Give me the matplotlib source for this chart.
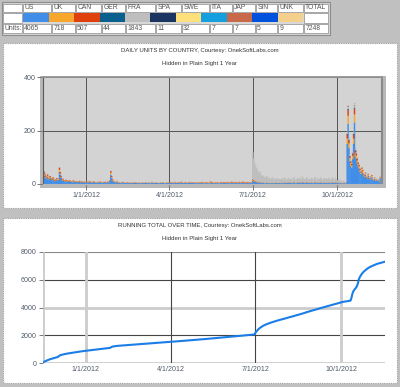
import matplotlib
matplotlib.use("Agg")
import matplotlib.pyplot as plt
import matplotlib.patches as patches
import pandas as pd

plt.rcParams['font.family'] = ['Liberation Sans', 'DejaVu Sans']

countries = ["US", "UK", "CAN", "GER", "FRA", "SPA", "SWE", "ITA", "JAP", "SIN", "UNK"]
colors = ["#418ee8", "#f8a62c", "#e0400e", "#0a5f8f", "#bebebe", "#1b3563",
          "#fde07c", "#169fde", "#c8694a", "#0052dc", "#f4d08c"]
table_units = [4065, 718, 507, 44, 1843, 11, 32, 7, 7, 5, 9]
table_total = 7248

first_day = "2011-11-16"

# daily units, one line per month (Nov 16 2011 .. Nov 17 2012)
us_units = [
    34, 31, 23, 20, 26, 17, 21, 23, 15, 14, 18, 15, 11, 13, 16,
    11, 15, 45, 34, 23, 13, 15, 11, 9, 12, 10, 9, 8, 11, 9, 8, 6, 10, 9, 8, 7, 8, 6, 8, 9, 6, 7, 7, 5, 7, 6,
    6, 7, 5, 7, 9, 5, 6, 5, 7, 7, 5, 4, 6, 5, 7, 5, 7, 5, 4, 6, 5, 7, 5, 6, 7, 5, 11, 35, 22, 13, 9,
    7, 6, 4, 9, 4, 5, 3, 5, 3, 6, 4, 4, 4, 3, 5, 4, 3, 4, 4, 3, 4, 3, 4, 5, 3, 4, 3, 4, 3,
    4, 3, 4, 3, 4, 5, 3, 4, 3, 4, 3, 4, 6, 3, 3, 4, 4, 3, 4, 3, 3, 4, 4, 3, 5, 4, 3, 3, 4, 4, 3,
    4, 4, 5, 3, 4, 4, 5, 4, 4, 3, 5, 4, 4, 6, 4, 3, 4, 5, 4, 4, 3, 4, 5, 4, 4, 3, 5, 4, 4, 4,
    3, 4, 3, 4, 3, 4, 5, 3, 3, 4, 4, 3, 4, 3, 3, 5, 4, 4, 3, 3, 4, 3, 4, 4, 3, 3, 4, 5, 3, 4, 4,
    4, 4, 3, 5, 4, 3, 4, 5, 4, 3, 5, 4, 4, 3, 4, 5, 4, 3, 4, 5, 4, 4, 3, 5, 4, 4, 3, 4, 4, 5,
    12, 10, 9, 8, 7, 6, 5, 5, 6, 4, 4, 4, 4, 3, 3, 5, 4, 3, 4, 3, 4, 3, 5, 3, 3, 4, 4, 3, 3, 4, 3,
    4, 5, 3, 4, 6, 4, 3, 4, 5, 4, 5, 4, 3, 5, 6, 4, 3, 4, 5, 4, 6, 5, 4, 7, 5, 4, 4, 5, 6, 4, 4,
    5, 4, 5, 4, 3, 5, 6, 4, 4, 5, 4, 4, 6, 5, 3, 4, 5, 4, 4, 5, 4, 5, 4, 3, 5, 6, 4, 4, 5, 4,
    4, 3, 5, 3, 4, 3, 3, 3, 3, 2, 7, 150, 225, 134, 85, 68, 61, 93, 150, 230, 101, 93, 77, 66, 58, 45, 37, 50, 42, 31, 26,
    35, 23, 21, 31, 18, 23, 17, 26, 16, 14, 19, 11, 16, 11, 14, 7, 22,
]
uk_units = [
    6, 5, 4, 3, 5, 3, 4, 4, 3, 2, 4, 3, 2, 3, 3,
    2, 3, 8, 6, 4, 3, 3, 2, 2, 2, 2, 2, 1, 2, 2, 1, 1, 2, 2, 1, 1, 2, 1, 1, 2, 1, 1, 2, 1, 1, 1,
    1, 2, 1, 1, 2, 1, 1, 1, 2, 1, 1, 1, 1, 1, 1, 1, 2, 1, 1, 1, 1, 1, 1, 1, 2, 1, 2, 7, 4, 3, 2,
    2, 1, 1, 2, 1, 1, 0, 1, 1, 1, 0, 1, 1, 0, 1, 1, 0, 1, 1, 0, 1, 0, 1, 1, 0, 1, 0, 1, 1,
    1, 0, 1, 0, 1, 1, 0, 1, 0, 1, 1, 1, 1, 0, 0, 1, 1, 0, 1, 0, 1, 1, 1, 0, 1, 1, 0, 1, 1, 1, 0,
    1, 1, 1, 0, 1, 1, 2, 1, 1, 0, 1, 1, 1, 2, 1, 0, 1, 1, 1, 1, 0, 1, 2, 1, 1, 0, 1, 1, 1, 1,
    1, 1, 1, 2, 1, 1, 2, 1, 1, 1, 2, 1, 1, 1, 1, 3, 2, 1, 1, 1, 1, 1, 2, 1, 1, 1, 1, 2, 1, 1, 2,
    1, 2, 1, 2, 1, 1, 2, 2, 1, 1, 2, 1, 2, 1, 1, 2, 2, 1, 1, 2, 2, 1, 1, 2, 1, 2, 1, 1, 2, 2,
    4, 3, 2, 2, 2, 2, 1, 1, 2, 1, 1, 1, 1, 1, 1, 1, 1, 1, 1, 1, 1, 1, 1, 1, 0, 1, 1, 1, 0, 1, 1,
    1, 1, 1, 1, 1, 1, 0, 1, 1, 1, 1, 1, 1, 1, 2, 1, 1, 1, 1, 1, 1, 1, 1, 2, 1, 1, 1, 1, 1, 1, 1,
    1, 1, 1, 1, 1, 1, 1, 1, 0, 1, 1, 1, 1, 1, 1, 1, 1, 1, 0, 1, 1, 1, 1, 1, 1, 1, 1, 1, 1, 1,
    1, 1, 1, 1, 1, 1, 1, 1, 0, 1, 1, 20, 30, 18, 12, 10, 9, 13, 20, 30, 14, 13, 11, 9, 8, 7, 6, 7, 6, 4, 4,
    5, 3, 3, 4, 3, 3, 2, 4, 2, 2, 3, 2, 2, 1, 2, 1, 3,
]
can_units = [
    5, 4, 3, 2, 4, 2, 3, 3, 2, 2, 3, 2, 2, 2, 3,
    2, 2, 7, 5, 3, 2, 2, 2, 1, 2, 2, 1, 1, 2, 1, 1, 1, 2, 1, 1, 1, 1, 1, 1, 1, 1, 1, 1, 1, 1, 1,
    1, 1, 0, 1, 1, 1, 1, 0, 1, 1, 1, 0, 1, 0, 1, 1, 1, 0, 0, 1, 1, 1, 0, 1, 1, 1, 2, 6, 4, 2, 1,
    1, 1, 1, 1, 0, 1, 1, 0, 1, 1, 0, 1, 0, 0, 1, 0, 1, 1, 0, 0, 1, 1, 0, 1, 1, 0, 0, 1, 0,
    0, 1, 1, 0, 0, 1, 1, 0, 0, 1, 0, 0, 1, 1, 0, 0, 1, 1, 0, 0, 0, 1, 0, 1, 1, 0, 0, 0, 1, 0, 1,
    1, 0, 1, 1, 1, 0, 1, 1, 0, 1, 1, 1, 0, 1, 1, 1, 0, 1, 1, 0, 1, 1, 1, 0, 1, 1, 1, 0, 1, 0,
    1, 1, 0, 1, 1, 1, 1, 1, 0, 1, 1, 1, 1, 0, 1, 2, 1, 1, 1, 0, 1, 1, 1, 1, 0, 1, 1, 1, 1, 1, 1,
    1, 1, 1, 1, 1, 1, 1, 2, 1, 1, 1, 1, 1, 1, 1, 1, 1, 1, 1, 2, 1, 1, 1, 1, 1, 1, 1, 1, 1, 1,
    3, 2, 2, 2, 1, 1, 1, 1, 1, 1, 1, 1, 1, 1, 0, 1, 1, 0, 1, 0, 1, 1, 1, 0, 1, 1, 1, 0, 1, 1, 0,
    1, 1, 0, 1, 1, 0, 1, 1, 1, 0, 1, 1, 0, 1, 1, 1, 0, 1, 1, 0, 1, 1, 0, 1, 1, 1, 0, 1, 1, 1, 0,
    1, 0, 1, 1, 0, 1, 1, 1, 1, 1, 0, 1, 1, 1, 0, 1, 1, 0, 1, 1, 0, 1, 1, 0, 1, 1, 1, 0, 1, 1,
    1, 1, 1, 0, 1, 1, 0, 1, 1, 0, 1, 14, 22, 12, 8, 7, 6, 9, 14, 22, 10, 9, 8, 6, 6, 5, 4, 5, 4, 3, 3,
    3, 2, 2, 3, 2, 2, 2, 3, 1, 1, 2, 1, 1, 1, 1, 1, 2,
]
# France only shows up from July 1 2012
fra_start = "2012-07-01"
fra_units = [
    101, 80, 67, 58, 50, 46, 38, 33, 39, 29, 24, 26, 22, 20, 18, 23, 20, 16, 18, 14, 16, 15, 18, 14, 12, 14, 16, 14, 11, 14, 13,
    12, 15, 11, 14, 17, 12, 10, 13, 16, 11, 13, 12, 11, 14, 17, 11, 11, 13, 15, 13, 16, 13, 11, 18, 15, 13, 12, 14, 17, 12, 11,
    13, 12, 16, 13, 11, 14, 18, 12, 11, 15, 14, 11, 16, 13, 11, 12, 15, 14, 11, 14, 12, 16, 12, 11, 13, 17, 13, 11, 15, 12,
    9, 7, 11, 6, 8, 6, 5, 8, 6, 5, 6, 6, 8, 6, 5, 5, 4, 5, 6, 8, 5, 5, 4, 4, 3, 3, 3, 3, 3, 2, 2,
    2, 2, 2, 2, 2, 2, 1, 2, 1, 1, 1, 1, 1, 1, 1, 1, 1,
]
ger_units = {"2011-11-16": 2, "2011-11-20": 1, "2011-11-25": 2, "2011-12-03": 1, "2011-12-13": 1,
             "2012-01-28": 1, "2012-10-12": 3, "2012-10-13": 4, "2012-10-14": 2, "2012-10-19": 3,
             "2012-10-20": 4, "2012-10-21": 2, "2012-10-26": 1}
spa_units = {"2011-11-18": 1, "2012-10-13": 2, "2012-10-20": 2, "2012-10-22": 1}
swe_units = {"2011-11-21": 1, "2011-12-04": 1, "2012-10-12": 2, "2012-10-13": 3, "2012-10-19": 2,
             "2012-10-20": 3, "2012-10-28": 1}
ita_units = {"2012-10-14": 1, "2012-10-21": 1}
jap_units = {"2012-10-13": 1, "2012-10-20": 1}
sin_units = {"2012-10-20": 1}
unk_units = {"2011-12-31": 1, "2012-10-13": 1, "2012-10-20": 2}

tick_dates = ["2012-01-01", "2012-04-01", "2012-07-01", "2012-10-01"]
tick_labels = ["1/1/2012", "4/1/2012", "7/1/2012", "10/1/2012"]

# ---- build the table of daily units
days = pd.date_range(first_day, periods=len(us_units), freq="D")
daily = pd.DataFrame(0, index=days, columns=countries)
daily["US"] = us_units
daily["UK"] = uk_units
daily["CAN"] = can_units
daily.loc[pd.Timestamp(fra_start):, "FRA"] = fra_units
for name, sparse in [("GER", ger_units), ("SPA", spa_units), ("SWE", swe_units), ("ITA", ita_units),
                     ("JAP", jap_units), ("SIN", sin_units), ("UNK", unk_units)]:
    for d, v in sparse.items():
        daily.loc[pd.Timestamp(d), name] = v
running = daily.sum(axis=1).cumsum()

W, H = 400, 387
fig = plt.figure(figsize=(W / 100, H / 100), dpi=100)
fig.patch.set_facecolor("#c0c0c0")

bg = fig.add_axes([0, 0, 1, 1], zorder=-1)
bg.set_xlim(0, W)
bg.set_ylim(H, 0)
bg.axis("off")

txt_col = "#555555"
tick_col = "#4f5a6a"

# ---- legend table at the top
bg.add_patch(patches.Rectangle((1.5, 1.5), 328.5, 33.5, fc="#d8d8d8", ec="#8c8c8c", lw=0.8))
col_edges = [(3, 22), (23, 51), (52, 75), (76, 101), (102, 125), (126, 155), (156, 181),
             (182, 209), (210, 232), (233, 255), (256, 277), (278, 303), (304, 328)]
header = [""] + countries + ["TOTAL"]
units_row = ["Units:"] + [str(v) for v in table_units] + [str(table_total)]
for (x0, x1), h, u in zip(col_edges, header, units_row):
    bg.add_patch(patches.Rectangle((x0, 3.5), x1 - x0, 8.3, fc="white", ec="#9c9c9c", lw=0.6))
    bg.add_patch(patches.Rectangle((x0, 24.0), x1 - x0, 8.5, fc="white", ec="#9c9c9c", lw=0.6))
    bg.text(x0 + 1.2, 7.8, h, fontsize=4.9, color=txt_col, va="center", ha="left")
    bg.text(x0 + 1.2, 28.4, u, fontsize=4.9, color=txt_col, va="center", ha="left")
bg.add_patch(patches.Rectangle((3, 12.7), 19, 10, fc="white", ec="#9c9c9c", lw=0.6))
bg.add_patch(patches.Rectangle((304, 12.7), 24, 10, fc="white", ec="#9c9c9c", lw=0.6))
sw = (303.0 - 23.3) / len(countries)
for i, c in enumerate(colors):
    bg.add_patch(patches.Rectangle((23.3 + i * sw, 12.9), sw, 9.6, fc=c, ec="none"))

# ---- the two white panels
for y0, y1 in [(42.5, 207.5), (217.5, 382.5)]:
    bg.add_patch(patches.Rectangle((2.5, y0), 394, y1 - y0, fc="white", ec="#a0a0a0",
                                   lw=0.8, ls=(0, (1, 1))))
bg.add_patch(patches.Rectangle((39.5, 75.5), 346, 112.5, fc="#b8b8b8", ec="none"))

bg.text(200, 50.5, "DAILY UNITS BY COUNTRY, Courtesy: OnekSoftLabs.com", fontsize=4.3,
        color="#333333", ha="center", va="center")
bg.text(200, 63.5, "Hidden in Plain Sight 1 Year", fontsize=4.3, color="#333333",
        ha="center", va="center")
bg.text(200, 225.5, "RUNNING TOTAL OVER TIME, Courtesy: OnekSoftLabs.com", fontsize=4.3,
        color="#333333", ha="center", va="center")
bg.text(200, 238.5, "Hidden in Plain Sight 1 Year", fontsize=4.3, color="#333333",
        ha="center", va="center")


def frac(x0, y0, x1, y1):
    return [x0 / W, 1 - y1 / H, (x1 - x0) / W, (y1 - y0) / H]


ticks = [pd.Timestamp(d) for d in tick_dates]

# ---- daily stacked columns (a bit wider than a day so thin columns stay solid)
ax1 = fig.add_axes(frac(43, 77, 382, 184))
ax1.set_facecolor("#d3d3d3")
bottom = pd.Series(0.0, index=days)
for name, c in zip(countries, colors):
    ax1.bar(days, daily[name], width=1.6, bottom=bottom, color=c, linewidth=0, snap=False)
    bottom = bottom + daily[name]
ax1.set_xlim(pd.Timestamp("2011-11-15"), pd.Timestamp("2012-11-19"))
ax1.set_ylim(0, 400)
ax1.set_yticks([0, 200, 400])
ax1.set_xticks(ticks)
ax1.set_xticklabels(tick_labels)
ax1.grid(True, color="#555555", lw=0.7)
ax1.set_axisbelow(True)
ax1.tick_params(labelsize=5.1, labelcolor=tick_col, color="#777777", length=4, width=0.7, pad=1.5)
ax1.spines["left"].set_color("#5a5a5a")
ax1.spines["left"].set_linewidth(0.8)
ax1.spines["top"].set_color("#999999")
ax1.spines["top"].set_linewidth(1.2)
ax1.spines["right"].set_color("#8a8a8a")
ax1.spines["right"].set_linewidth(1.5)
ax1.spines["bottom"].set_color("#b8b8b8")
ax1.spines["bottom"].set_linewidth(0.8)

# ---- running total
ax2 = fig.add_axes(frac(43, 252, 385, 363))
ax2.patch.set_alpha(0)
x_left, x_right = pd.Timestamp("2011-11-16"), pd.Timestamp("2012-11-17")
ax2.set_xlim(x_left, x_right)
ax2.set_ylim(0, 8000)
y_ticks = [0, 2000, 4000, 6000, 8000]
h_styles = [("#cccccc", 2.0), ("#444444", 0.8), ("#cccccc", 2.0), ("#444444", 0.8), ("#888888", 0.8)]
for v, (c, lw) in zip(y_ticks, h_styles):
    ax2.axhline(v, color=c, lw=lw, zorder=1)
v_styles = [("#cccccc", 2.0), ("#444444", 0.8), ("#444444", 0.8), ("#cccccc", 2.0)]
for t, (c, lw) in zip(ticks, v_styles):
    ax2.axvline(t, color=c, lw=lw, zorder=1)
ax2.axvline(x_left, color="#cccccc", lw=2.0, zorder=1)
ax2.plot(days, running, color="#1a7de8", lw=1.5, zorder=3)
for s in ax2.spines.values():
    s.set_visible(False)
ax2.set_yticks(y_ticks)
ax2.set_xticks(ticks)
ax2.set_xticklabels(tick_labels)
ax2.tick_params(labelsize=5.1, labelcolor=tick_col, length=0, pad=2.5)
ax2.tick_params(axis="y", length=3, color="#777777", width=0.7, pad=1.5)

fig.savefig("out.png", dpi=100)
